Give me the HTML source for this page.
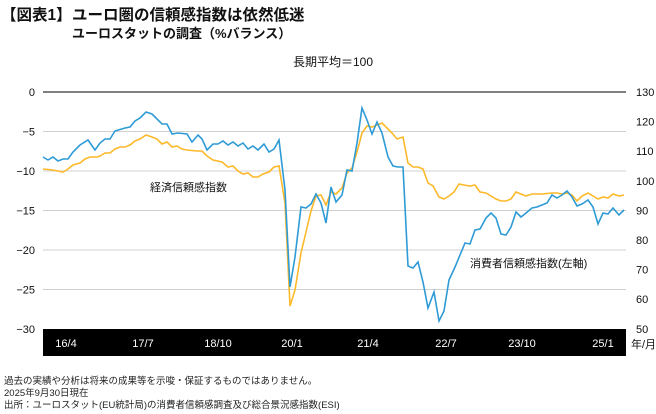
<!DOCTYPE html>
<html><head><meta charset="utf-8"><style>
html,body{margin:0;padding:0;background:#fff;width:656px;height:414px;overflow:hidden}
svg{display:block;font-family:"Liberation Sans","Noto Sans CJK JP",sans-serif}
</style></head><body>
<svg width="656" height="414" viewBox="0 0 656 414">
<text x="1" y="20" font-size="15.5" font-weight="bold" fill="#111">【図表1】</text>
<text x="72" y="20" font-size="15.5" font-weight="bold" fill="#111">ユーロ圏の信頼感指数は依然低迷</text>
<text x="72" y="38" font-size="13" font-weight="bold" fill="#111">ユーロスタットの調査（%バランス）</text>
<text x="293" y="66" font-size="12" fill="#111">長期平均＝100</text>
<g stroke="#d0d0d0" stroke-width="1">
<line x1="43" y1="131.5" x2="626" y2="131.5"/><line x1="43" y1="171" x2="626" y2="171"/>
<line x1="43" y1="210.5" x2="626" y2="210.5"/><line x1="43" y1="250" x2="626" y2="250"/>
<line x1="43" y1="289.5" x2="626" y2="289.5"/></g>
<line x1="43" y1="92" x2="626" y2="92" stroke="#000" stroke-width="1"/>
<rect x="43" y="329" width="583" height="27" fill="#000"/>
<g font-size="11" fill="#fff" text-anchor="middle">
<text x="66" y="347">16/4</text><text x="143" y="347">17/7</text><text x="218" y="347">18/10</text><text x="292" y="347">20/1</text>
<text x="368" y="347">21/4</text><text x="446" y="347">22/7</text><text x="522" y="347">23/10</text><text x="603" y="347">25/1</text></g>
<g font-size="11" fill="#111" text-anchor="end">
<text x="35" y="96">0</text><text x="35" y="135.5">−5</text><text x="35" y="175">−10</text><text x="35" y="214.5">−15</text>
<text x="35" y="254">−20</text><text x="35" y="293.5">−25</text><text x="35" y="333">−30</text></g>
<g font-size="11" fill="#111">
<text x="636" y="96">130</text><text x="636" y="125.6">120</text><text x="636" y="155.2">110</text><text x="636" y="184.8">100</text>
<text x="636" y="214.4">90</text><text x="636" y="244">80</text><text x="636" y="273.6">70</text><text x="636" y="303.2">60</text><text x="636" y="333">50</text>
<text x="631" y="348">年/月</text></g>
<text x="150" y="191" font-size="11" fill="#111">経済信頼感指数</text>
<text x="470" y="267" font-size="11" fill="#111">消費者信頼感指数(左軸)</text>
<polyline fill="none" stroke="#fdb92a" stroke-width="1.6" points="43,169 53,170 63,172 68,169 73,165 80,163 85,159 90,157 97,157 100,156 105,153 110,153 115,149 120,147 125,147 130,145 135,141 140,139 146,135 152,137 157,139 162,144 167,142 172,147 177,146 182,149 187,150 197,151 202,151 207,156 213,160 222,162 228,167 233,166 238,171 243,174 248,173 253,177 258,177 263,174 269,172 274,167 279,166 285,203 290,306 295,290 301,253 306,232 311,211 316,196 321,195 326,205 331,192 336,194 342,188 347,173 352,168 357,152 362,133 367,126 372,127 377,125 382,123 387,128 392,133 397,139 403,137 408,163 413,167 418,167 423,169 428,183 433,186 439,197 444,199 449,196 454,192 459,184 464,185 470,186 475,185 480,192 486,193 491,196 496,199 501,201 506,201 511,199 516,192 521,194 526,196 532,194 542,194 552,193 557,193 562,194 567,193 572,195 577,201 582,196 588,193 593,196 598,199 603,197 608,198 613,194 619,196 624,195"/>
<polyline fill="none" stroke="#2e9bd6" stroke-width="1.6" points="43,157 48,160 53,157 58,161 63,159 68,159 73,152 80,145 88,140 95,150 100,143 105,139 110,139 115,131 125,128 130,127 135,121 140,118 146,112 152,114 162,124 167,124 172,134 178,133 187,134 192,142 198,135 202,139 207,150 213,144 218,144 223,141 228,145 233,142 238,146 243,143 248,149 253,146 258,150 264,144 269,152 274,149 279,140 285,190 290,287 295,257 301,207 306,208 311,204 316,194 321,203 326,223 331,187 336,202 342,195 347,170 352,171 357,143 362,108 367,120 372,134 377,122 382,133 388,157 393,166 398,167 403,167 408,266 413,268 418,262 423,282 428,308 434,292 439,321 444,311 449,280 455,267 460,255 465,243 470,244 475,230 480,229 486,218 491,213 496,218 501,234 506,235 511,227 516,212 521,217 526,213 532,208 537,207 542,205 547,203 552,195 557,198 562,195 567,191 572,197 577,206 582,204 588,200 593,207 598,224 603,213 608,214 613,208 619,215 624,210"/>
<g font-size="9.5" fill="#222">
<text x="4" y="384">過去の実績や分析は将来の成果等を示唆・保証するものではありません。</text>
<text x="4" y="396">2025年9月30日現在</text>
<text x="4" y="408">出所：ユーロスタット(EU統計局)の消費者信頼感調査及び総合景況感指数(ESI)</text></g>
</svg>
</body></html>
